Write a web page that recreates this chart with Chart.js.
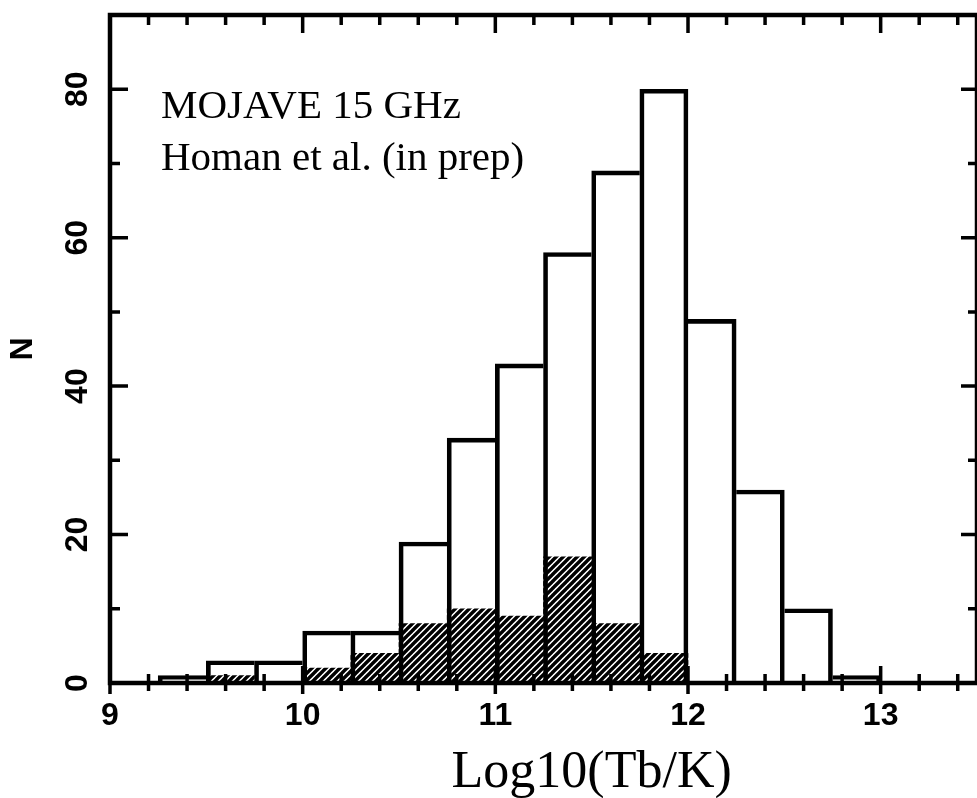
<!DOCTYPE html>
<html>
<head>
<meta charset="utf-8">
<title>MOJAVE 15 GHz - Tb histogram</title>
<script src="https://cdn.jsdelivr.net/npm/chart.js@4.4.1/dist/chart.umd.min.js"></script>
<style>
  html, body { margin: 0; padding: 0; background: #fff; overflow: hidden; }
  #wrap { width: 977px; height: 798px; }
</style>
</head>
<body>
<div id="wrap"><canvas id="chart" width="977" height="798"></canvas></div>
<script>
// Lower edge of each bin in log10(Tb/K), bins are 0.25 wide
const binStarts = [9.25, 9.5, 9.75, 10, 10.25, 10.5, 10.75, 11, 11.25, 11.5, 11.75, 12, 12.25, 12.5, 12.75];
const binWidth = 0.25;
// all sources (open bars)
const totalCounts = [1, 3, 3, 7, 7, 19, 33, 43, 58, 69, 80, 49, 26, 10, 1];
// hatched subset
const hatchedCounts = [0, 1, 0, 2, 4, 8, 10, 9, 17, 8, 4, 0, 0, 0, 0];

const xTicks = [9, 10, 11, 12, 13];
const yTicks = [0, 20, 40, 60, 80];
const annotation = ['MOJAVE 15 GHz', 'Homan et al. (in prep)'];
const xTitle = 'Log10(Tb/K)';
const yTitle = 'N';

Chart.defaults.font.family = '"Liberation Sans", Arial, sans-serif';
Chart.defaults.color = '#000';

// diagonal hatch pattern for the subset bars
const makeHatch = () => {
    const s = 7;
    const p = document.createElement('canvas');
    p.width = s;
    p.height = s;
    const c = p.getContext('2d');
    c.strokeStyle = '#000';
    c.lineWidth = 3.4;
    c.beginPath();
    c.moveTo(0, s); c.lineTo(s, 0);
    c.moveTo(-1, 1); c.lineTo(1, -1);
    c.moveTo(s - 1, s + 1); c.lineTo(s + 1, s - 1);
    c.stroke();
    return c.createPattern(p, 'repeat');
};

// shared edges between neighbouring bars are drawn only once
const outlineWidth = (ctx) => {
    const i = ctx.dataIndex;
    const h = totalCounts[i];
    const prev = i > 0 ? totalCounts[i - 1] : 0;
    const next = i < totalCounts.length - 1 ? totalCounts[i + 1] : 0;
    return { top: 4, left: h >= prev ? 4 : 0, right: h > next ? 4 : 0, bottom: 0 };
};

// frame, inward tick marks and the text inside the plot
const frameTicks = {
    id: 'frameTicks',
    afterDatasetsDraw(chart) {
        const { ctx, chartArea: a, scales: { x, y } } = chart;
        ctx.save();
        ctx.strokeStyle = '#000';
        ctx.lineWidth = 3.5;
        ctx.beginPath();
        for (let i = 0; i <= 44; i += 2) {
            const px = x.getPixelForValue(9 + i / 10);
            const major = i % 10 === 0;
            ctx.moveTo(px, a.bottom - (major ? 17 : 9));
            ctx.lineTo(px, a.bottom + (major ? 11 : 8));
            ctx.moveTo(px, a.top);
            ctx.lineTo(px, a.top + (major ? 18 : 10));
        }
        for (let v = 10; v <= 80; v += 10) {
            const py = y.getPixelForValue(v);
            const major = v % 20 === 0;
            ctx.moveTo(a.left, py);
            ctx.lineTo(a.left + (major ? 18 : 10), py);
            ctx.moveTo(a.right, py);
            ctx.lineTo(a.right - (major ? 16 : 9), py);
        }
        ctx.stroke();
        ctx.lineWidth = 4.5;
        ctx.strokeRect(a.left, a.top, a.right - a.left, a.bottom - a.top);

        ctx.fillStyle = '#000';
        ctx.textBaseline = 'alphabetic';
        ctx.textAlign = 'left';
        ctx.font = '41px "Liberation Serif", "Times New Roman", serif';
        ctx.fillText(annotation[0], 161, 118);
        ctx.fillText(annotation[1], 161, 170);

        ctx.textAlign = 'center';
        ctx.font = '52px "Liberation Serif", "Times New Roman", serif';
        ctx.fillText(xTitle, x.getPixelForValue(11.5), 787);
        ctx.restore();
    }
};

const ctx = document.getElementById('chart').getContext('2d');
new Chart(ctx, {
    type: 'bar',
    data: {
        datasets: [
            {
                label: 'all',
                data: binStarts.map((b, i) => ({ x: b + binWidth / 2, y: totalCounts[i] })),
                backgroundColor: 'rgba(0,0,0,0)',
                borderColor: '#000',
                borderWidth: outlineWidth,
                order: 0
            },
            {
                label: 'subset',
                data: binStarts.map((b, i) => ({ x: b + binWidth / 2, y: hatchedCounts[i] })),
                backgroundColor: makeHatch(),
                borderWidth: 0,
                order: 1
            }
        ]
    },
    options: {
        responsive: false,
        animation: false,
        devicePixelRatio: 1,
        grouped: false,
        barPercentage: 1,
        categoryPercentage: 1,
        layout: { padding: { top: 15, right: 0, left: 0, bottom: 0 } },
        plugins: {
            legend: { display: false },
            tooltip: { enabled: false }
        },
        scales: {
            x: {
                type: 'linear',
                min: 9,
                max: 13.5,
                offset: false,
                grid: { display: false },
                border: { display: false },
                afterBuildTicks: s => { s.ticks = xTicks.map(v => ({ value: v })); },
                afterFit: s => { s.height = 115; s.paddingLeft = 0; s.paddingRight = 0; },
                ticks: {
                    autoSkip: false,
                    maxRotation: 0,
                    padding: 6,
                    font: { size: 32, weight: 'bold' },
                    callback: v => String(v)
                }
            },
            y: {
                min: 0,
                max: 90,
                grid: { display: false },
                border: { display: false },
                afterBuildTicks: s => { s.ticks = yTicks.map(v => ({ value: v })); },
                afterFit: s => { s.width = 110; s.paddingTop = 0; s.paddingBottom = 0; },
                title: {
                    display: true,
                    text: yTitle,
                    font: { size: 32, weight: 'bold' },
                    padding: { top: 4, bottom: 0 }
                },
                ticks: {
                    minRotation: 90,
                    maxRotation: 90,
                    crossAlign: 'center',
                    padding: 6,
                    font: { size: 32, weight: 'bold' },
                    callback: v => String(v)
                }
            }
        }
    },
    plugins: [frameTicks]
});
</script>
</body>
</html>
